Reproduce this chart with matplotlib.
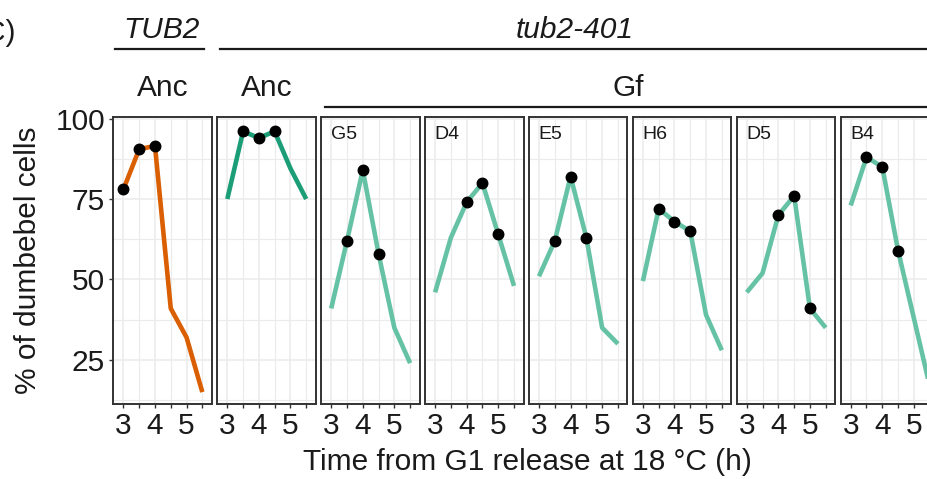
import matplotlib
matplotlib.use("Agg")
import matplotlib.pyplot as plt
from matplotlib.lines import Line2D

plt.rcParams['font.family'] = ['Liberation Sans', 'DejaVu Sans']

# ---- data ----
times = [3.0, 3.5, 4.0, 4.5, 5.0, 5.5]
panel_labels = ["", "", "G5", "D4", "E5", "H6", "D5", "B4"]
strip_labels = ["Anc", "Anc", "", "", "", "", "", ""]
tub2_anc   = [78, 90.5, 91.5, 41, 32, 15]
t401_anc   = [75, 96, 94, 96, 84.5, 75]
gf_g5      = [41, 62, 84, 58, 35, 24]
gf_d4      = [46, 63, 74, 80, 64, 48]
gf_e5      = [51, 62, 82, 63, 35, 30]
gf_h6      = [49.5, 72, 68, 65, 39, 28]
gf_d5      = [46, 52, 70, 76, 41, 35]
gf_b4      = [73, 88, 85, 59, 38, 17]
series = [tub2_anc, t401_anc, gf_g5, gf_d4, gf_e5, gf_h6, gf_d5, gf_b4]
# indices of time points marked with a dot
dot_idx = [[0, 1, 2], [1, 2, 3], [1, 2, 3], [2, 3, 4],
           [1, 2, 3], [1, 2, 3], [2, 3, 4], [1, 2, 3]]
colors = ["#D95F02", "#1B9E77"] + ["#66C2A5"] * 6
y_ticks = [25, 50, 75, 100]
x_ticks = [3, 4, 5]
x_label_text = "Time from G1 release at 18 °C (h)"
y_label_text = "% of dumbebel cells"

# ---- layout (pixels) ----
W, H = 928, 479
fig = plt.figure(figsize=(W / 100, H / 100), dpi=100)
FS = 21.5
px = 0.72  # points per pixel

top_px, bot_px = 117.3, 404.0
left0, step, width = 113.3, 103.9, 98.5

axes = []
for i, (vals, col) in enumerate(zip(series, colors)):
    l = left0 + step * i
    ax = fig.add_axes([l / W, (H - bot_px) / H, width / W, (bot_px - top_px) / H])
    axes.append(ax)
    ax.set_xlim(2.68, 5.80)
    ax.set_ylim(11.3, 100.4)
    ax.set_xticks(x_ticks)
    ax.set_xticks([3.5, 4.5, 5.5], minor=True)
    ax.set_yticks(y_ticks)
    ax.set_yticks([12.5, 37.5, 62.5, 87.5], minor=True)
    ax.grid(which='major', color='#EBEBEB', lw=1.1, zorder=0)
    ax.grid(which='minor', color='#EBEBEB', lw=0.8, zorder=0)
    ax.set_axisbelow(True)
    for s in ax.spines.values():
        s.set_color('#333333')
        s.set_linewidth(1.4)
    ax.tick_params(which='both', direction='out', length=4 * px, width=1.0,
                   color='#333333', labelsize=FS, labelcolor='#1a1a1a', pad=3)
    ax.tick_params(axis='y', which='minor', length=0)
    ax.set_xticklabels([str(t) for t in x_ticks])
    if i == 0:
        ax.set_yticklabels([str(t) for t in y_ticks])
    else:
        ax.tick_params(axis='y', which='both', left=False, labelleft=False)
    ax.plot(times, vals, color=col, lw=4.6 * px, solid_capstyle='butt',
            solid_joinstyle='round', zorder=3)
    ax.plot([times[k] for k in dot_idx[i]], [vals[k] for k in dot_idx[i]],
            'o', color='black', ms=10.5 * px, zorder=4)
    if panel_labels[i]:
        ax.text(0.1, 0.97, panel_labels[i], transform=ax.transAxes,
                ha='left', va='top', fontsize=14, color='#1a1a1a')
    if strip_labels[i]:
        fig.text((l + width / 2) / W, 1 - 88 / H, strip_labels[i],
                 ha='center', va='center', fontsize=FS, color='#1a1a1a')

# headers
fig.text(162 / W, 1 - 30 / H, "TUB2", style='italic', ha='center',
         va='center', fontsize=FS, color='#1a1a1a')
fig.add_artist(Line2D([115 / W, 204 / W], [1 - 48.5 / H] * 2, color='#1a1a1a', lw=1.6))
fig.text(575 / W, 1 - 30 / H, "tub2-401", style='italic', ha='center',
         va='center', fontsize=FS, color='#1a1a1a')
fig.add_artist(Line2D([220 / W, 1.02], [1 - 48.5 / H] * 2, color='#1a1a1a', lw=1.6))
fig.text(628 / W, 1 - 88 / H, "Gf", ha='center', va='center', fontsize=FS,
         color='#1a1a1a')
fig.add_artist(Line2D([325 / W, 1.02], [1 - 106.5 / H] * 2, color='#1a1a1a', lw=1.6))
fig.text(16 / W, 1 - 33 / H, "(C)", ha='right', va='center', fontsize=FS,
         color='#1a1a1a')

# axis titles
fig.text(527 / W, 1 - 462 / H, x_label_text, ha='center', va='center',
         fontsize=FS, color='#1a1a1a')
fig.text(28 / W, 1 - 260 / H, y_label_text, ha='center', va='center',
         rotation=90, fontsize=FS, color='#1a1a1a')

fig.savefig("out.png", dpi=100)
